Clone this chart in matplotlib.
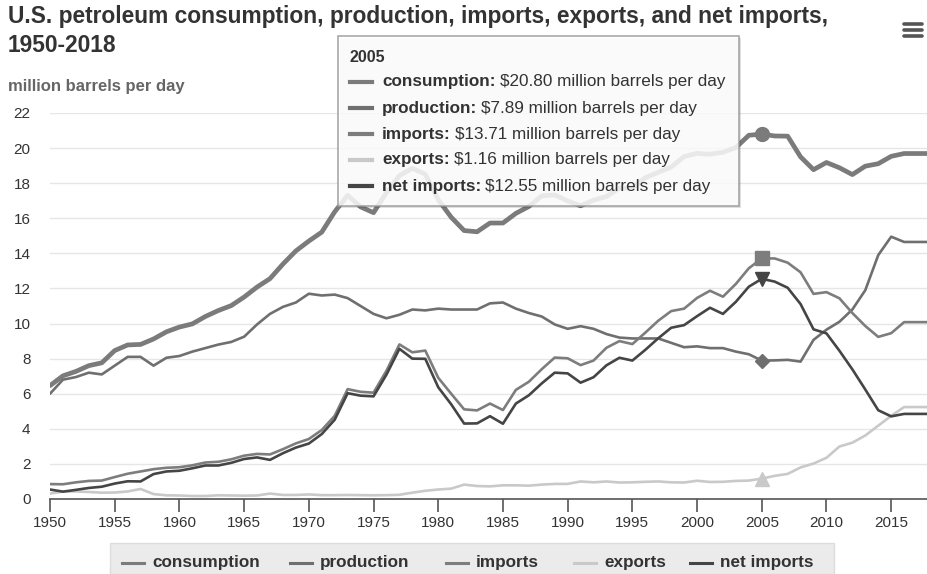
import matplotlib
matplotlib.use("Agg")
import matplotlib.pyplot as plt
from matplotlib.patches import Rectangle
from matplotlib.lines import Line2D

plt.rcParams['font.family'] = ['Liberation Sans', 'DejaVu Sans']

# ---------------------------- data ----------------------------------------
years = list(range(1950, 2019))

consumption = [6.46, 7.02, 7.27, 7.60, 7.76, 8.46, 8.78, 8.81, 9.12, 9.53,
               9.80, 9.98, 10.40, 10.74, 11.02, 11.51, 12.08, 12.56, 13.39, 14.14,
               14.70, 15.21, 16.37, 17.31, 16.65, 16.32, 17.46, 18.43, 18.85, 18.51,
               17.06, 16.06, 15.30, 15.23, 15.73, 15.73, 16.28, 16.67, 17.28, 17.33,
               16.99, 16.71, 17.03, 17.24, 17.72, 17.72, 18.31, 18.62, 18.92, 19.52,
               19.70, 19.65, 19.76, 20.03, 20.73, 20.80, 20.69, 20.68, 19.50, 18.77,
               19.18, 18.88, 18.49, 18.97, 19.11, 19.53, 19.69, 19.69, 19.69]

production = [6.00, 6.80, 6.95, 7.20, 7.10, 7.60, 8.10, 8.10, 7.60, 8.05,
              8.15, 8.40, 8.60, 8.80, 8.95, 9.25, 9.95, 10.55, 10.95, 11.20,
              11.70, 11.60, 11.65, 11.45, 11.00, 10.55, 10.30, 10.50, 10.80, 10.75,
              10.85, 10.80, 10.80, 10.80, 11.15, 11.20, 10.85, 10.60, 10.40, 9.95,
              9.70, 9.85, 9.70, 9.40, 9.20, 9.15, 9.15, 9.15, 8.90, 8.65,
              8.70, 8.60, 8.60, 8.40, 8.25, 7.89, 7.90, 7.93, 7.83, 9.07,
              9.65, 10.10, 10.80, 11.90, 13.90, 14.95, 14.65, 14.65, 14.65]

imports = [0.85, 0.84, 0.95, 1.03, 1.05, 1.25, 1.44, 1.57, 1.70, 1.78,
           1.81, 1.92, 2.08, 2.12, 2.26, 2.47, 2.57, 2.54, 2.84, 3.17,
           3.42, 3.93, 4.74, 6.26, 6.11, 6.06, 7.31, 8.81, 8.36, 8.46,
           6.91, 6.00, 5.11, 5.05, 5.44, 5.07, 6.22, 6.68, 7.40, 8.06,
           8.02, 7.63, 7.89, 8.62, 9.00, 8.83, 9.48, 10.16, 10.71, 10.85,
           11.46, 11.87, 11.53, 12.26, 13.15, 13.71, 13.71, 13.47, 12.92, 11.69,
           11.79, 11.44, 10.60, 9.86, 9.24, 9.45, 10.08, 10.08, 10.08]

exports = [0.31, 0.42, 0.43, 0.40, 0.36, 0.37, 0.43, 0.57, 0.28, 0.21,
           0.20, 0.17, 0.17, 0.21, 0.20, 0.19, 0.20, 0.31, 0.23, 0.23,
           0.26, 0.22, 0.22, 0.23, 0.22, 0.21, 0.22, 0.24, 0.36, 0.47,
           0.54, 0.59, 0.82, 0.74, 0.72, 0.78, 0.78, 0.76, 0.82, 0.86,
           0.86, 1.00, 0.95, 1.00, 0.94, 0.95, 0.98, 1.00, 0.95, 0.94,
           1.04, 0.97, 0.98, 1.03, 1.05, 1.16, 1.32, 1.43, 1.80, 2.02,
           2.35, 2.99, 3.21, 3.62, 4.18, 4.74, 5.24, 5.24, 5.24]

net_imports = [0.54, 0.42, 0.52, 0.63, 0.70, 0.88, 1.01, 1.00, 1.42, 1.57,
               1.61, 1.75, 1.91, 1.91, 2.06, 2.28, 2.37, 2.23, 2.61, 2.93,
               3.16, 3.70, 4.52, 6.03, 5.89, 5.85, 7.09, 8.56, 8.00, 7.99,
               6.37, 5.40, 4.30, 4.31, 4.72, 4.29, 5.44, 5.91, 6.59, 7.20,
               7.16, 6.63, 6.94, 7.62, 8.05, 7.89, 8.50, 9.16, 9.76, 9.91,
               10.42, 10.90, 10.55, 11.24, 12.10, 12.55, 12.39, 12.04, 11.11, 9.67,
               9.44, 8.45, 7.39, 6.24, 5.06, 4.71, 4.85, 4.85, 4.85]

names = ['consumption', 'production', 'imports', 'exports', 'net imports']
series = [consumption, production, imports, exports, net_imports]
colors = ['#7b7b7b', '#6f6f6f', '#7d7d7d', '#c9c9c9', '#454545']
widths = [3.4, 1.9, 1.9, 1.9, 1.9]
markers = ['o', 'D', 's', '^', 'v']
msizes = [10, 7, 10.5, 10, 10]
hover_year = 2005
# ---------------------------------------------------------------------------

W, H = 927, 574
fig = plt.figure(figsize=(W / 100, H / 100), dpi=100)


def fx(px):
    return px / W


def fy(py):
    return 1 - py / H


# plot area: 1950 at x=50, 0 at y=499, 22 at y=113
ax = fig.add_axes([fx(50), fy(499), 880 / W, 386 / H])
ax.set_xlim(1950, 2018)
ax.set_ylim(0, 22)

for name, vals, c, lw in zip(names, series, colors, widths):
    ax.plot(years, vals, color=c, lw=lw, label=name, solid_joinstyle='round',
            solid_capstyle='round', zorder=3)

i = years.index(hover_year)
for vals, c, m, ms in zip(series, colors, markers, msizes):
    ax.plot(hover_year, vals[i], marker=m, ms=ms, color=c, mec=c, zorder=5,
            clip_on=False)

ax.set_yticks(range(0, 23, 2))
ax.set_xticks(range(1950, 2019, 5))
ax.grid(axis='y', color='#e6e6e6', lw=1)
ax.set_axisbelow(True)
for s in ['top', 'right', 'left']:
    ax.spines[s].set_visible(False)
ax.spines['bottom'].set_color('#555555')
ax.spines['bottom'].set_linewidth(1.2)
ax.tick_params(axis='y', length=0, pad=14, labelsize=11, labelcolor='#333333')
ax.tick_params(axis='x', length=9, width=1.2, color='#555555', pad=3,
               labelsize=11, labelcolor='#333333')

# titles (two lines drawn separately)
fig.text(fx(8), fy(17), 'U.S. petroleum consumption, production, imports, exports, and net imports,',
         ha='left', va='center', fontsize=16.4, fontweight='bold', color='#333333')
fig.text(fx(8), fy(46), '1950-2018', ha='left', va='center', fontsize=16.4,
         fontweight='bold', color='#333333')
fig.text(fx(8), fy(87), 'million barrels per day', ha='left', va='center',
         fontsize=12, fontweight='bold', color='#666666')

# menu icon
for yy in [24, 30, 36]:
    fig.add_artist(Line2D([fx(904), fx(922)], [fy(yy), fy(yy)], color='#555555',
                          lw=2.6, solid_capstyle='round'))

# tooltip
tl, tt, tr, tb = 338, 36, 739, 206
fig.add_artist(Rectangle((fx(tl + 2), fy(tb + 2)), (tr - tl) / W, (tb - tt) / H,
                         facecolor='#000000', alpha=0.12, edgecolor='none',
                         zorder=9))
fig.add_artist(Rectangle((fx(tl), fy(tb)), (tr - tl) / W, (tb - tt) / H,
                         facecolor='white', alpha=0.85, edgecolor='#999999',
                         lw=1.2, zorder=10))
fig.text(fx(350), fy(57), str(hover_year), ha='left', va='center', fontsize=11.5,
         fontweight='bold', color='#333333', zorder=11)
row_y = [82, 108, 134, 160, 186]
for ry, name, vals, c in zip(row_y, names, series, colors):
    fig.add_artist(Line2D([fx(350), fx(372)], [fy(ry), fy(ry)], color=c, lw=3,
                          zorder=11))
    t = fig.text(fx(382), fy(ry), name + ':', ha='left', va='center',
                 fontsize=12.3, fontweight='bold', color='#333333', zorder=11)
    fig.canvas.draw()
    bb = t.get_window_extent()
    fig.text(bb.x1 / W + fx(4), fy(ry), '$%.2f million barrels per day' % vals[i],
             ha='left', va='center', fontsize=12.3, color='#333333', zorder=11)

# legend box at the bottom
fig.add_artist(Rectangle((fx(110), fy(574)), (834 - 110) / W, (574 - 543) / H,
                         facecolor='#ebebeb', edgecolor='#dddddd', lw=1, zorder=1))
leg_x = [122, 290, 446, 574, 690]
for lx, name, c in zip(leg_x, names, colors):
    fig.add_artist(Line2D([fx(lx), fx(lx + 22)], [fy(563), fy(563)], color=c,
                          lw=2.2, zorder=2))
    fig.text(fx(lx + 30), fy(563), name, ha='left', va='center', fontsize=12.3,
             fontweight='bold', color='#333333', zorder=2)

fig.savefig('out.png', dpi=100)
